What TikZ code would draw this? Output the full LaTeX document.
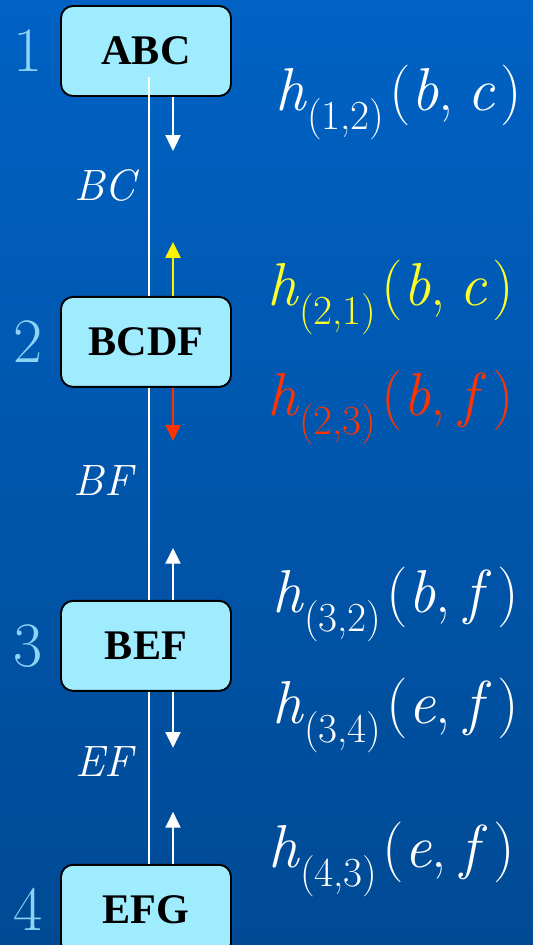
\documentclass[tikz,border=0pt]{standalone}
\usepackage{fontspec}
\newfontfamily\timesfont{Liberation Serif}
\usepackage{xcolor}
\usepackage{tikz}
\usetikzlibrary{positioning,calc,arrows.meta}

\definecolor{bgtop}{RGB}{0,98,196}
\definecolor{bgbot}{RGB}{0,74,148}
\definecolor{boxfill}{RGB}{160,236,255}
\definecolor{numblue}{RGB}{140,212,245}
\definecolor{msgred}{RGB}{255,51,0}
\definecolor{msgyellow}{RGB}{255,255,40}

\newcommand{\hmsg}[3]{\textit{h}\raisebox{-11pt}{\fontsize{23.5}{23.5}\selectfont(#1)}\hspace{3pt}(\textit{#2},\hspace{8pt}\textit{#3}\hspace{3pt})}

\begin{document}
\begin{tikzpicture}[>={Triangle[width=8.5pt,length=9pt]},
  clique/.style={draw=black, line width=1.1pt, fill=boxfill, rounded corners=0.24cm,
    minimum width=3.4cm, minimum height=1.8cm, font=\timesfont\fontsize{24}{24}\selectfont\bfseries},
  num/.style={text=numblue, inner sep=0pt, font=\fontsize{36}{36}\selectfont},
  sepset/.style={text=white, inner sep=0pt, font=\fontsize{25}{25}\selectfont\itshape},
  formula/.style={anchor=base west, inner sep=0pt, font=\fontsize{34.5}{34.5}\selectfont},
  wire/.style={draw=white, line width=0.9pt},
  msg/.style={->, line width=1.2pt}]
  \useasboundingbox (0,0) rectangle (10.66,-18.9);
  \shade[top color=bgtop, bottom color=bgbot] (0,0) rectangle (10.66,-18.9);

  \node[clique] (C1) at (2.92,-1.02) {ABC};
  \coordinate (T1) at ([xshift=0.06cm,yshift=-0.52cm]C1.center);
  \draw[wire] (T1) -- (T1 |- C1.south);
  \node[clique] (C2) [below=3.98cm of C1] {BCDF};
  \node[clique] (C3) [below=4.24cm of C2] {BEF};
  \node[clique] (C4) [below=3.44cm of C3] {EFG};

  \draw[wire] (T1 |- C1.south) -- (T1 |- C2.north);
  \draw[wire] (T1 |- C2.south) -- (T1 |- C3.north);
  \draw[wire] (T1 |- C3.south) -- (T1 |- C4.north);

  \node[num] (N1) [left=0.35cm of C1] {1};
  \node[num] (N2) [left=0.35cm of C2] {2};
  \node[num] (N3) [left=0.35cm of C3] {3};
  \node[num] (N4) [left=0.35cm of C4] {4};

  \node[sepset] (S12) at (2.1,-3.7) {BC};
  \node[sepset] (S23) at (2.06,-9.6) {BF};
  \node[sepset] (S34) at (2.08,-15.24) {EF};

  \coordinate (A12) at ([xshift=0.54cm,yshift=-1.08cm]C1.south);
  \coordinate (A21) at ([xshift=0.54cm,yshift=1.08cm]C2.north);
  \coordinate (A23) at ([xshift=0.54cm,yshift=-1.06cm]C2.south);
  \coordinate (A32) at ([xshift=0.54cm,yshift=1.04cm]C3.north);
  \coordinate (A34) at ([xshift=0.54cm,yshift=-1.12cm]C3.south);
  \coordinate (A43) at ([xshift=0.54cm,yshift=1.04cm]C4.north);
  \draw[msg, white] ([xshift=0.54cm]C1.south) -- (A12);
  \draw[msg, yellow] ([xshift=0.54cm]C2.north) -- (A21);
  \draw[msg, msgred] ([xshift=0.54cm]C2.south) -- (A23);
  \draw[msg, white] ([xshift=0.54cm]C3.north) -- (A32);
  \draw[msg, white] ([xshift=0.54cm]C3.south) -- (A34);
  \draw[msg, white] ([xshift=0.54cm]C4.north) -- (A43);

  \node[formula, text=white] (M12) at (5.5,-2.2) {\hmsg{1,2}{b}{c}};
  \node[formula, text=msgyellow] (M21) at (5.34,-6.1) {\hmsg{2,1}{b}{c}};
  \node[formula, text=msgred] (M23) at (5.34,-8.3) {\hmsg{2,3}{b}{f}};
  \node[formula, text=white] (M32) at (5.44,-12.24) {\hmsg{3,2}{b}{f}};
  \node[formula, text=white] (M34) at (5.44,-14.46) {\hmsg{3,4}{e}{f}};
  \node[formula, text=white] (M43) at (5.36,-17.34) {\hmsg{4,3}{e}{f}};
\end{tikzpicture}
\end{document}
